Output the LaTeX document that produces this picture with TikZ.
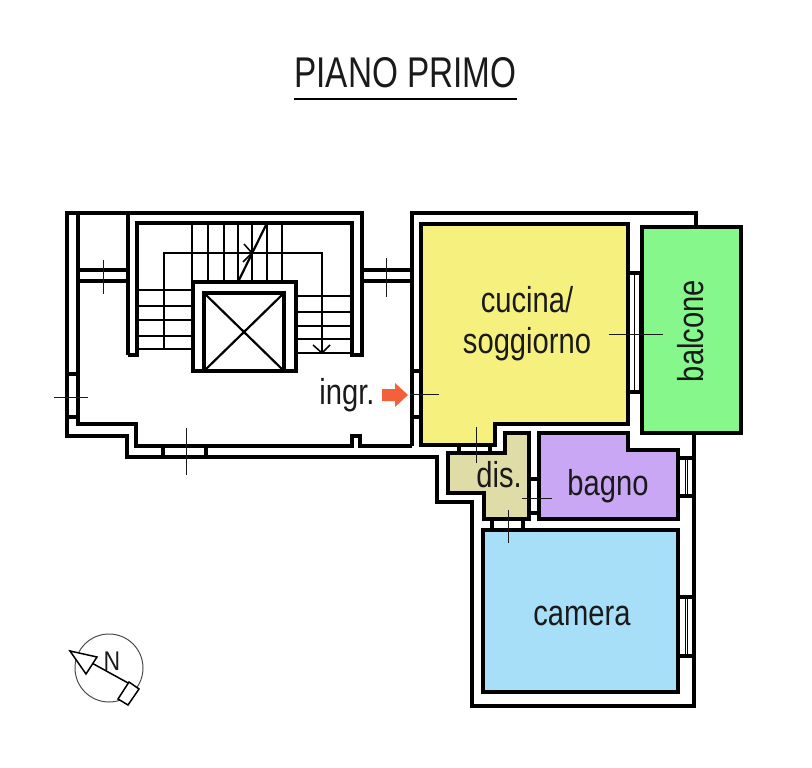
\documentclass[tikz,border=0pt]{standalone}
\usepackage{fontspec}
\setmainfont{Liberation Sans}
\definecolor{cucinacol}{HTML}{F6F17F}
\definecolor{balconecol}{HTML}{86F78A}
\definecolor{discol}{HTML}{E0DCA8}
\definecolor{bagnocol}{HTML}{C9A7F5}
\definecolor{cameracol}{HTML}{A8DFF8}
\definecolor{ingrcol}{HTML}{F4603A}
\definecolor{inkcol}{HTML}{1A1A1A}
\tikzset{>=stealth}
\tikzset{
  wall/.style={line width=3.2pt, black},
  room/.style={line width=4pt, black},
  tread/.style={line width=2.2pt, black},
  thinwall/.style={line width=1pt, black},
  tick/.style={line width=0.8pt, inkcol},
  roomlabel/.style={anchor=base, inner sep=0pt, xscale=0.81, text=inkcol, font=\fontsize{36}{36}\selectfont},
}
\begin{document}
\begin{tikzpicture}[x=1pt, y=-1pt]
\useasboundingbox (0,0) rectangle (812,768);
% title
\node (title) at (405.5,88) [anchor=base, inner sep=0pt, xscale=0.775, text=inkcol, font=\fontsize{43}{43}\selectfont] {PIANO PRIMO};
\draw[line width=2pt] (294,99) -- (517,99);
% rooms
\draw[room, fill=cucinacol] (421,224) -- (628,224) -- (628,424) -- (495,424) -- (495,445) -- (421,445) -- cycle;
\draw[room, fill=balconecol] (642,227) rectangle (741,433);
\draw[room, fill=discol] (448,453) -- (505,453) -- (505,433) -- (529,433) -- (529,519) -- (484,519) -- (484,493) -- (448,493) -- cycle;
\draw[room, fill=bagnocol] (539,433) -- (628,433) -- (628,450) -- (678,450) -- (678,519) -- (539,519) -- cycle;
\draw[room, fill=cameracol] (483,530) rectangle (678,692);
% outer walls
\draw[wall] (412,446) -- (412,213) -- (696,213) -- (696,227);
\draw[wall] (78,213) -- (78,424) -- (136,424) -- (136,446) -- (352,446) -- (352,436) -- (360,436) -- (360,446) -- (412,446);
\draw[wall] (128,355) -- (128,213) -- (67,213) -- (67,436) -- (127,436) -- (127,457) -- (437,457) -- (437,502) -- (472,502) -- (472,706) -- (694,706) -- (694,433);
\draw[wall] (128,213) -- (362,213) -- (362,355) -- (352,355) -- (352,223) -- (137,223) -- (137,355) -- (128,355);
% stairs
\foreach \x in {192,208,224,238,252,267,282}
\draw[tread] (\x,223) -- (\x,282);
\foreach \y in {290,306,320,336,349}
\draw[tread] (137,\y) -- (193,\y);
\foreach \y in {296,312,326,339,353}
\draw[tread] (296,\y) -- (352,\y);
\draw[thinwall, line width=1.5pt] (164,349) -- (164,253) -- (322,253) -- (322,353);
\draw[thinwall, line width=1.5pt] (313,345) -- (322,353) -- (330,345);
\draw[thinwall, line width=1.5pt] (244,244) -- (252,253) -- (243,262);
\draw[tread] (238,282) -- (266,225);
% lift
\draw[wall, fill=white] (193,282) rectangle (296,371);
\draw[wall] (204,293) rectangle (284,371);
\draw[tread] (204,293) -- (284,371);
\draw[tread] (204,371) -- (284,293);
% windows and doors
\foreach \y in {270,281} {
\draw[wall] (78,\y) -- (128,\y);
\draw[wall] (362,\y) -- (412,\y);
}
\foreach \y in {374,417}
\draw[wall] (67,\y) -- (78,\y);
\foreach \y in {371,417}
\draw[wall] (412,\y) -- (421,\y);
\foreach \x in {163,206}
\draw[wall] (\x,446) -- (\x,457);
\foreach \y in {273,392}
\draw[wall] (628,\y) -- (642,\y);
\foreach \x in {634,639}
\draw[thinwall] (\x,273) -- (\x,392);
\foreach \x in {459,490}
\draw[wall] (\x,445) -- (\x,453);
\foreach \y in {479,513}
\draw[wall] (529,\y) -- (539,\y);
\foreach \x in {492,523}
\draw[wall] (\x,519) -- (\x,530);
\foreach \y in {458,496,597,656}
\draw[wall] (678,\y) -- (694,\y);
\foreach \x in {685,687} {
\draw[thinwall] (\x,458) -- (\x,496);
\draw[thinwall] (\x,597) -- (\x,656);
}
% crosses
\draw[tick] (103,260) -- (103,294);
\draw[tick] (386,258) -- (386,297);
\draw[tick] (54,397) -- (88,397);
\draw[tick] (410,394) -- (439,394);
\draw[tick] (186,428) -- (186,475);
\draw[tick] (609,334) -- (663,334);
\draw[tick] (476,427) -- (476,463);
\draw[tick] (522,498) -- (552,498);
\draw[tick] (508,510) -- (508,543);
% entrance arrow
\draw[fill=ingrcol, draw=none] (382,389) -- (395,389) -- (395,383) -- (408,395) -- (395,407) -- (395,401) -- (382,401) -- cycle;
% labels
\node (cucina) at (527,312) [roomlabel] {cucina/};
\node (soggiorno) at (527,353) [roomlabel] {soggiorno};
\node (balcone) at (703,331) [rotate=90, roomlabel] {balcone};
\node (dis) at (499,487) [roomlabel] {dis.};
\node (bagno) at (608,495) [roomlabel] {bagno};
\node (camera) at (582,625) [roomlabel] {camera};
\node (ingr) at (347,404) [roomlabel] {ingr.};
% north
\coordinate (C) at (109,668);
\draw[line width=1pt, black!70] (C) circle (34);
\draw[line width=1.5pt] (70,651) -- (139,689);
\draw[line width=1.5pt, fill=white] (70,651) -- (97,657) -- (86,674) -- cycle;
\draw[line width=1.5pt, fill=white] (129,682) -- (139,689) -- (128,705) -- (118,699) -- cycle;
\node (N) at (112,670) [anchor=base, inner sep=0pt, xscale=0.85, text=inkcol, font=\fontsize{27}{27}\selectfont] {N};
\end{tikzpicture}
\end{document}
